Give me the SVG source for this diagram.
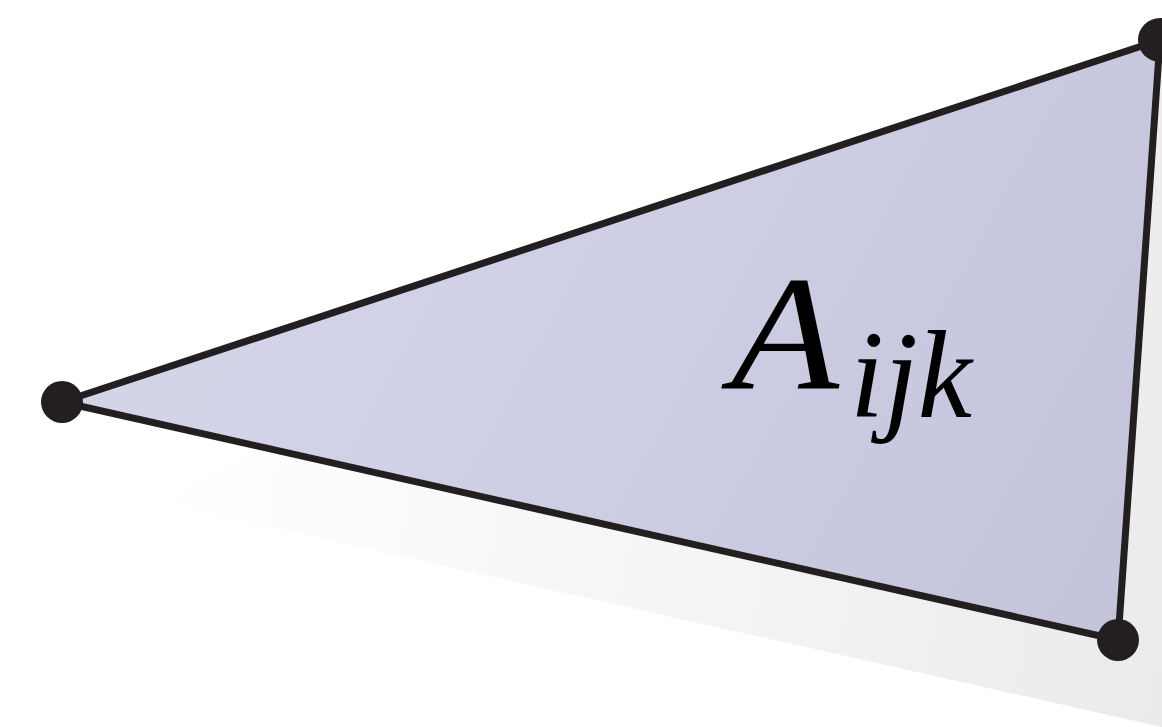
<svg xmlns="http://www.w3.org/2000/svg" width="1162" height="727" viewBox="0 0 1162 727">
<defs>
<linearGradient id="shadow" x1="150" y1="500" x2="1162" y2="700" gradientUnits="userSpaceOnUse">
<stop offset="0" stop-color="#ffffff"/>
<stop offset="1" stop-color="#ebebeb"/>
</linearGradient>
<linearGradient id="fill" x1="300" y1="200" x2="1118" y2="640" gradientUnits="userSpaceOnUse">
<stop offset="0" stop-color="#d4d4e9"/>
<stop offset="1" stop-color="#c3c4db"/>
</linearGradient>
<style>
.edge{fill:url(#fill);stroke:#231f20;stroke-width:7;stroke-linejoin:round}
.vtx{fill:#231f20}
.lbl{font-family:"Liberation Serif","DejaVu Serif",serif;font-style:italic;fill:#000}
</style>
</defs>
<rect width="1162" height="727" fill="#ffffff"/>
<polygon points="150,500 1162,60 1162,727" fill="url(#shadow)"/>
<g id="triangle">
<polygon class="edge" points="62,402 1160,40 1118,640"/>
<text class="lbl" x="731" y="388" font-size="164" textLength="108" lengthAdjust="spacingAndGlyphs">A</text>
<text class="lbl" x="850" y="417" font-size="125" textLength="122" lengthAdjust="spacingAndGlyphs">ijk</text>
</g>
<g id="v1"><circle class="vtx" cx="62" cy="402" r="21"/></g>
<g id="v2"><circle class="vtx" cx="1160" cy="40" r="22"/></g>
<g id="v3"><circle class="vtx" cx="1118" cy="640" r="21"/></g>
</svg>
